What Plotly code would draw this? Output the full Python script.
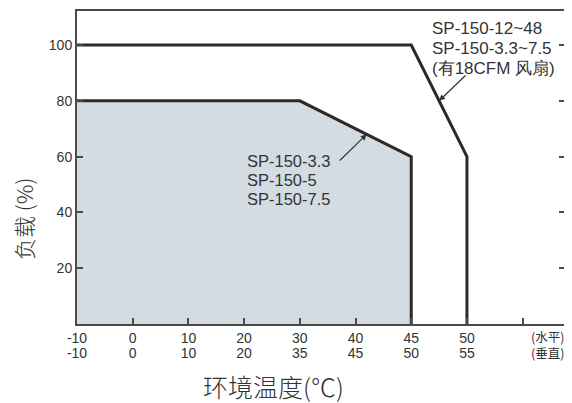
import plotly.graph_objects as go

# ---- data ----
temps_horizontal = [-10, 0, 10, 20, 30, 40, 45, 50]
temps_vertical = [-10, 0, 10, 20, 35, 45, 50, 55]
load_ticks = [20, 40, 60, 80, 100]

fan_temp = [-10, 45, 50, 50]          # with 18CFM fan (horizontal scale)
fan_load = [100, 100, 60, 0]
conv_temp = [-10, 30, 45, 45]         # convection (horizontal scale)
conv_load = [80, 80, 60, 0]

fan_label = ["SP-150-12~48", "SP-150-3.3~7.5", "(有18CFM 风扇)"]
conv_label = ["SP-150-3.3", "SP-150-5", "SP-150-7.5"]
mount_label = ["(水平)", "(垂直)"]

# ---- layout constants (page body has an 8px offset) ----
OFF = 8
W, H = 572, 403
L, R, T, B = 77, 7, 11, 79
PW, PH = W - L - R, H - T - B
XMAX = 8.76
YMAX = 112.2

def pos(t):
    return temps_horizontal.index(t)

def px_to_paper(px, py):
    return (px - L) / PW, (H - B - py) / PH

LINE = "#2d2929"
TXT = "#333333"
FRAME = "#4d4a4a"
NUM_FONT = "Liberation Sans Narrow, Liberation Sans, Arial, sans-serif"
LBL_FONT = "Liberation Sans, Arial, sans-serif"
CJK = "Noto Sans CJK SC, sans-serif"

fig = go.Figure()

fig.add_trace(go.Scatter(
    x=[pos(t) for t in conv_temp], y=conv_load, mode="lines",
    line=dict(color=LINE, width=3), fill="tozeroy", fillcolor="#d3dbe3",
    hoverinfo="skip", showlegend=False))
fig.add_trace(go.Scatter(
    x=[pos(t) for t in fan_temp], y=fan_load, mode="lines",
    line=dict(color=LINE, width=3), hoverinfo="skip", showlegend=False))

n = len(temps_horizontal)
fig.update_layout(
    width=W - OFF, height=H - OFF,
    margin=dict(l=L - OFF, r=R, t=T - OFF, b=B, pad=0, autoexpand=False),
    paper_bgcolor="white", plot_bgcolor="white", showlegend=False,
    xaxis=dict(range=[0, XMAX], tickmode="array", tickvals=list(range(n)),
               ticktext=[str(t) for t in temps_horizontal],
               ticks="inside", ticklen=6, tickwidth=1.5, tickcolor=FRAME,
               showline=True, linewidth=2, linecolor=FRAME, mirror=True,
               showgrid=False, zeroline=False,
               tickfont=dict(family=NUM_FONT, size=14, color=TXT)),
    xaxis2=dict(range=[0, XMAX], overlaying="x", anchor="y", side="bottom",
                tickmode="array", tickvals=list(range(len(temps_vertical))),
                ticktext=[str(t) for t in temps_vertical],
                ticks="outside", ticklen=16, tickcolor="rgba(0,0,0,0)",
                showline=False, showgrid=False, zeroline=False,
                tickfont=dict(family=NUM_FONT, size=14, color=TXT)),
    xaxis3=dict(range=[0, XMAX], overlaying="x", anchor="y", side="bottom",
                tickmode="array", tickvals=[n], showticklabels=False,
                ticks="inside", ticklen=6, tickwidth=1.5, tickcolor=FRAME,
                showline=False, showgrid=False, zeroline=False),
    yaxis=dict(range=[0, YMAX], tickmode="array", tickvals=load_ticks,
               ticktext=[str(v) for v in load_ticks],
               ticks="inside", ticklen=6, tickwidth=1.5, tickcolor=FRAME,
               showline=True, linewidth=2, linecolor=FRAME, mirror="ticks",
               showgrid=False, zeroline=False,
               tickfont=dict(family=NUM_FONT, size=14, color=TXT)),
)
# invisible traces so the extra x axes are drawn
for ax in ["x2", "x3"]:
    fig.add_trace(go.Scatter(x=[0], y=[0], xaxis=ax, mode="markers",
                             marker=dict(opacity=0), hoverinfo="skip",
                             showlegend=False))

ann = []
def text_at(txt, px, py, size, family, xanchor="left", angle=0, weight="normal"):
    x, y = px_to_paper(px, py)
    ann.append(dict(text=txt, x=x, y=y, xref="paper", yref="paper",
                    xanchor=xanchor, yanchor="middle", showarrow=False,
                    textangle=angle,
                    font=dict(family=family, size=size, color=TXT, weight=weight)))

for i, s in enumerate(fan_label):
    text_at(s, 430, 28.5 + 20 * i, 17, LBL_FONT)
for i, s in enumerate(conv_label):
    text_at(s, 245, 161 + 19 * i, 16.5, LBL_FONT)
text_at("<br>".join(mount_label), 547, 344.5, 12.5, CJK, xanchor="center")

text_at("环境温度(℃)", 273, 386, 25, CJK, xanchor="center", weight=300)
text_at("负载 (%)", 23, 219, 22, CJK, xanchor="center", angle=-90, weight=300)

# arrows pointing to the derating segments
fan_mid_x = (pos(fan_temp[1]) + pos(fan_temp[2])) / 2
fan_mid_y = (fan_load[1] + fan_load[2]) / 2
f = 0.6
conv_pt_x = pos(conv_temp[1]) + f * (pos(conv_temp[2]) - pos(conv_temp[1]))
conv_pt_y = conv_load[1] + f * (conv_load[2] - conv_load[1])
for hx, hy, tx, ty in [(fan_mid_x, fan_mid_y, 7.0, 89.6),
                       (conv_pt_x, conv_pt_y, 4.69, 58.1)]:
    ann.append(dict(x=hx, y=hy, ax=tx, ay=ty, xref="x", yref="y",
                    axref="x", ayref="y", text="", showarrow=True,
                    arrowhead=2, arrowsize=1, arrowwidth=1.2,
                    arrowcolor=TXT, standoff=0))

fig.update_layout(annotations=ann)
fig.write_html("out.html")
